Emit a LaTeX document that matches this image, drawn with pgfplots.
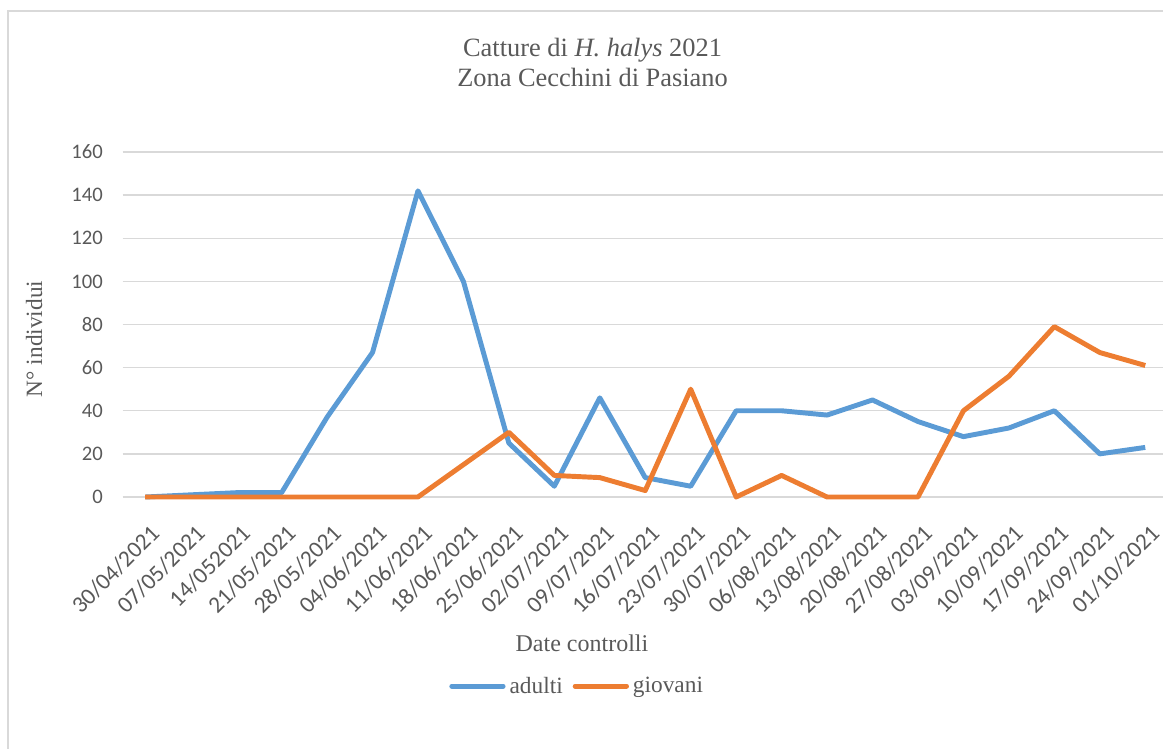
\documentclass[border=0pt]{standalone}
\usepackage{fontspec}
\setmainfont{Liberation Serif}
\newfontfamily\carlito{Carlito}
\usepackage{pgfplots}
\pgfplotsset{compat=1.18}
\definecolor{cblue}{HTML}{5B9BD5}
\definecolor{corange}{HTML}{ED7D31}
\definecolor{cgrid}{HTML}{D9D9D9}
\definecolor{ctext}{HTML}{595959}
\begin{document}
\begin{tikzpicture}
\useasboundingbox (0,0) rectangle (872.25pt,-561.75pt);
\draw[cgrid, line width=1.5pt] (6pt,-8.6pt) rectangle (900pt,-600pt);
\node[text=ctext, font=\fontsize{19.8}{23}\selectfont, anchor=base, inner sep=0pt] at (444.4pt,-42.75pt) {Catture di \textit{H. halys} 2021};
\node[text=ctext, font=\fontsize{19.8}{23}\selectfont, anchor=base, inner sep=0pt] at (444.4pt,-65.25pt) {Zona Cecchini di Pasiano};
\begin{axis}[
  at={(91.875pt,-372.75pt)}, anchor=south west,
  scale only axis, width=780.7pt, height=258.75pt,
  xmin=-0.5, xmax=22.4, ymin=0, ymax=160,
  clip=false,
  axis line style={draw=none},
  major tick length=0pt,
  ymajorgrids, major grid style={cgrid, line width=1.1pt},
  ytick={0,20,...,160},
  xtick={0,...,22},
  xticklabels={30/04/2021,07/05/2021,14/052021,21/05/2021,28/05/2021,04/06/2021,11/06/2021,18/06/2021,25/06/2021,02/07/2021,09/07/2021,16/07/2021,23/07/2021,30/07/2021,06/08/2021,13/08/2021,20/08/2021,27/08/2021,03/09/2021,10/09/2021,17/09/2021,24/09/2021,01/10/2021},
  /pgf/number format/assume math mode=true,
  yticklabel style={anchor=east, inner sep=0pt, xshift=-14.6pt, text=ctext, font=\fontsize{15.5}{18}\carlito},
  xticklabel style={yshift=-19.5pt, xshift=3pt, rotate=45, anchor=north east, inner sep=0pt, text=ctext, font=\fontsize{17.5}{20}\carlito},
  xlabel={Date controlli},
  xlabel style={at={(axis description cs:0.4414,-0.449)}, anchor=base, inner sep=0pt, text=ctext, font=\fontsize{18}{21}\selectfont},
  ylabel={N° individui},
  ylabel style={at={(axis description cs:-0.0773,0.458)}, rotate=0, anchor=base, inner sep=0pt, text=ctext, font=\fontsize{17.5}{21}\selectfont},
  legend columns=2,
  legend style={at={(axis description cs:0.3137,-0.548)}, anchor=west, draw=none, fill=none, inner sep=0pt,
    font=\fontsize{17.5}{21}\selectfont, text=ctext, nodes={inner sep=0pt},
    /tikz/every odd column/.append style={column sep=3pt},
    /tikz/every even column/.append style={column sep=7.5pt}},
  legend image code/.code={\draw[#1, line cap=round] (1.5pt,0pt) -- (40pt,0pt);},
]
\addplot[cblue, line width=3.7pt, line join=round] coordinates {
(0,0) (1,1) (2,2) (3,2) (4,37) (5,67) (6,142) (7,100) (8,25) (9,5) (10,46) (11,9) (12,5) (13,40) (14,40) (15,38) (16,45) (17,35) (18,28) (19,32) (20,40) (21,20) (22,23)};
\addlegendentry{adulti}
\addplot[corange, line width=3.7pt, line join=round] coordinates {
(0,0) (1,0) (2,0) (3,0) (4,0) (5,0) (6,0) (7,15) (8,30) (9,10) (10,9) (11,3) (12,50) (13,0) (14,10) (15,0) (16,0) (17,0) (18,40) (19,56) (20,79) (21,67) (22,61)};
\addlegendentry{giovani}
\end{axis}
\end{tikzpicture}
\end{document}
